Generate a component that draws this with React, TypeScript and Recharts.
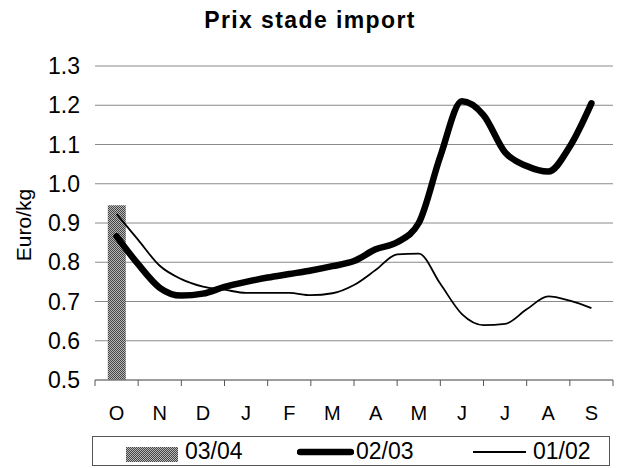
import React from 'react';
import { ComposedChart, Bar, Line, XAxis, YAxis, CartesianGrid, Legend, Label } from 'recharts';

const months = ['O', 'N', 'D', 'J', 'F', 'M', 'A', 'M', 'J', 'J', 'A', 'S'];
const monthBoundaries = [0, 1, 2, 3, 4, 5, 6, 7, 8, 9, 10, 11, 12];
const yTicks = [0.5, 0.6, 0.7, 0.8, 0.9, 1.0, 1.1, 1.2, 1.3];

// positions along the season (in months from start of October), half-month steps
const positions = [0.5, 1, 1.5, 2, 2.5, 3, 3.5, 4, 4.5, 5, 5.5, 6, 6.5, 7, 7.5, 8, 8.5, 9, 9.5, 10, 10.5, 11, 11.5];
const prices0203 = [0.866, 0.795, 0.735, 0.715, 0.72, 0.737, 0.75, 0.761, 0.77, 0.779, 0.79, 0.803, 0.833, 0.851, 0.9, 1.07, 1.21, 1.175, 1.08, 1.045, 1.031, 1.095, 1.205];
const prices0102 = [0.923, 0.857, 0.791, 0.757, 0.738, 0.73, 0.722, 0.722, 0.722, 0.716, 0.721, 0.742, 0.78, 0.82, 0.822, 0.745, 0.668, 0.64, 0.643, 0.68, 0.713, 0.702, 0.683];
const positions0304 = [0.5];
const prices0304 = [0.945];

const data = positions.map((t, i) => {
  const row: any = { t, s0203: prices0203[i], s0102: prices0102[i] };
  const j = positions0304.indexOf(t);
  if (j >= 0) row.s0304 = prices0304[j];
  return row;
});

const FONT = '"Liberation Sans", Arial, Helvetica, sans-serif';
const PLOT_W = 518;

const MonthTick = (props: any) => {
  const { x, y, payload } = props;
  const v = payload.value;
  if (v >= months.length) return null;
  const step = PLOT_W / months.length;
  return (
    <text x={x + step / 2} y={y} dy={32} textAnchor="middle" fontFamily={FONT} fontSize={20} fill="#000">
      {months[v]}
    </text>
  );
};

const ValueTick = (props: any) => {
  const { x, y, payload } = props;
  return (
    <text x={x} y={y} dy={8} textAnchor="end" fontFamily={FONT} fontSize={23} fill="#000">
      {Number(payload.value).toFixed(1)}
    </text>
  );
};

const Checker = ({ id }: { id: string }) => (
  <pattern id={id} width="2" height="2" patternUnits="userSpaceOnUse">
    <rect width="2" height="2" fill="#b8b8b8" />
    <rect width="1" height="1" fill="#444" />
    <rect x="1" y="1" width="1" height="1" fill="#444" />
  </pattern>
);

const legendLayout: Record<string, { left: number; textLeft: number; kind: string; w: number }> = {
  '03/04': { left: 33, textLeft: 92, kind: 'bar', w: 52 },
  '02/03': { left: 204, textLeft: 263, kind: 'thick', w: 57 },
  '01/02': { left: 380, textLeft: 440, kind: 'thin', w: 53 },
};

const renderLegend = (props: any) => {
  const payload = props.payload || [];
  return (
    <div
      style={{
        position: 'relative',
        boxSizing: 'border-box',
        width: 518,
        height: 30,
        border: '1px solid #555',
        fontFamily: FONT,
        fontSize: 23,
        color: '#000',
      }}
    >
      {payload.map((p: any) => {
        const L = legendLayout[p.value];
        if (!L) return null;
        return (
          <React.Fragment key={p.value}>
            <svg style={{ position: 'absolute', left: L.left, top: 0 }} width={L.w} height={28}>
              {L.kind === 'bar' && (
                <>
                  <defs>
                    <Checker id="legendChecker" />
                  </defs>
                  <rect x={0} y={10} width={L.w} height={15} fill="url(#legendChecker)" />
                </>
              )}
              {L.kind === 'thick' && <line x1={3} x2={L.w - 3} y1={15} y2={15} stroke="#000" strokeWidth={6.5} strokeLinecap="round" />}
              {L.kind === 'thin' && <line x1={0} x2={L.w} y1={15} y2={15} stroke="#000" strokeWidth={1.8} />}
            </svg>
            <span style={{ position: 'absolute', left: L.textLeft, top: 0, lineHeight: '28px' }}>{p.value}</span>
          </React.Fragment>
        );
      })}
    </div>
  );
};

const YLabel = (props: any) => {
  const vb = props.viewBox || { x: 0, y: 66, width: 95, height: 314 };
  const cx = vb.x + 31;
  const cy = vb.y + vb.height / 2 + 2;
  return (
    <text x={cx} y={cy} transform={`rotate(-90, ${cx}, ${cy})`} textAnchor="middle" fontFamily={FONT} fontSize={21} fill="#000">
      Euro/kg
    </text>
  );
};

export default function App() {
  return (
    <div style={{ position: 'absolute', left: 0, top: 0, width: 620, height: 468, background: '#fff' }}>
      <div
        style={{
          position: 'absolute',
          left: 0,
          top: 9,
          width: 620,
          textAlign: 'center',
          fontFamily: FONT,
          fontWeight: 'bold',
          fontSize: 23,
          lineHeight: '23px',
          letterSpacing: 1.4,
          color: '#000',
        }}
      >
        Prix stade import
      </div>
      <ComposedChart width={620} height={468} data={data} margin={{ top: 66, right: 7, left: 0, bottom: 8 }}>
        <defs>
          <Checker id="barChecker" />
        </defs>
        <CartesianGrid horizontal vertical={false} stroke="#8a8a8a" strokeWidth={1} />
        <XAxis
          dataKey="t"
          type="number"
          domain={[0, 12]}
          ticks={monthBoundaries}
          interval={0}
          allowDataOverflow
          height={50}
          tick={<MonthTick />}
          tickSize={6}
          axisLine={{ stroke: '#777' }}
          tickLine={{ stroke: '#555' }}
        />
        <YAxis
          type="number"
          domain={[0.5, 1.3]}
          ticks={yTicks}
          interval={0}
          allowDataOverflow
          width={95}
          tickSize={0}
          tickMargin={15}
          axisLine={false}
          tickLine={false}
          tick={<ValueTick />}
        >
          <Label content={<YLabel />} />
        </YAxis>
        <Legend
          verticalAlign="bottom"
          content={renderLegend}
          wrapperStyle={{ left: 92, top: 436, bottom: 'auto', width: 518, height: 30 }}
        />
        <Bar dataKey="s0304" name="03/04" fill="url(#barChecker)" barSize={18} isAnimationActive={false} legendType="rect" />
        <Line
          dataKey="s0203"
          name="02/03"
          type="monotone"
          stroke="#000"
          strokeWidth={6.5}
          strokeLinecap="round"
          strokeLinejoin="round"
          dot={false}
          activeDot={false}
          isAnimationActive={false}
        />
        <Line
          dataKey="s0102"
          name="01/02"
          type="monotone"
          stroke="#000"
          strokeWidth={1.8}
          dot={false}
          activeDot={false}
          isAnimationActive={false}
        />
      </ComposedChart>
    </div>
  );
}
